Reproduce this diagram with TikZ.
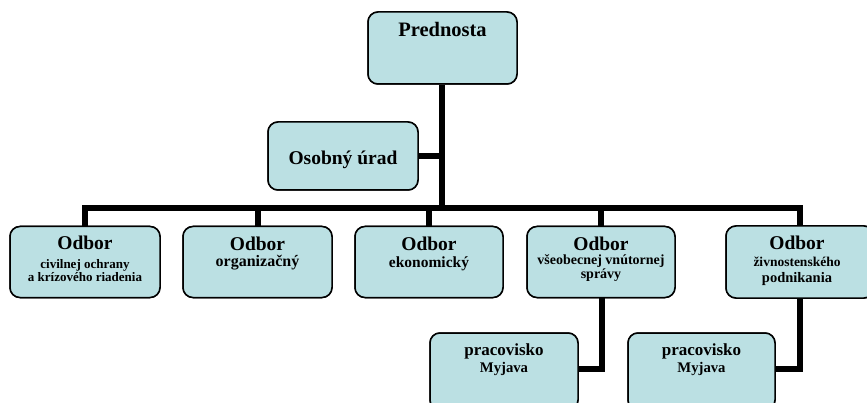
\documentclass[tikz,border=0pt]{standalone}
\usepackage{fontspec}
\setmainfont{Liberation Serif}
\definecolor{boxfill}{RGB}{187,224,227}
\tikzset{
  orgbox/.style={draw=black, line width=1.5pt, fill=boxfill, rounded corners=10pt, inner sep=0pt},
  conn/.style={draw=black, line width=6pt},
  txt/.style={anchor=base, inner sep=0pt, font=\bfseries},
}
\newcommand{\fs}[1]{\fontsize{#1}{#1}\selectfont}
\begin{document}
\begin{tikzpicture}[x=1pt,y=-1pt]
\useasboundingbox (0,0) rectangle (867,403);
\clip (0,0) rectangle (867,403);
% box outlines (positions)
\path
 node[orgbox, minimum width=149pt, minimum height=72pt] (pred) at (442.5,48) {}
 node[orgbox, minimum width=150pt, minimum height=68pt] (osob) at (343,156) {}
 node[orgbox, minimum width=150pt, minimum height=71pt] (b1) at (85,262) {}
 node[orgbox, minimum width=149pt, minimum height=71pt] (b2) at (257.5,262) {}
 node[orgbox, minimum width=148pt, minimum height=71pt] (b3) at (429,262) {}
 node[orgbox, minimum width=148pt, minimum height=71pt] (b4) at (601,262) {}
 node[orgbox, minimum width=148pt, minimum height=72pt] (b5) at (800,262) {}
 node[orgbox, minimum width=148pt, minimum height=77pt] (p1) at (504,371.5) {}
 node[orgbox, minimum width=147pt, minimum height=77pt] (p2) at (701.5,371.5) {};
\coordinate (bar) at (442,208);
\coordinate (j1) at (602,369);
\coordinate (j2) at (800,369);
% connectors
\draw[conn] (pred.south -| bar) -- (bar);
\draw[conn] (osob.east) -- (osob.east -| bar);
\draw[conn] (b1.north) -- (b1.north |- bar) -- (b5.north |- bar) -- (b5.north);
\draw[conn] (b2.north |- bar) -- (b2.north);
\draw[conn] (b3.north |- bar) -- (b3.north);
\draw[conn] (b4.north |- bar) -- (b4.north);
\draw[conn] (b4.south -| j1) -- (j1) -- (p1.east |- j1);
\draw[conn] (b5.south -| j2) -- (j2) -- (p2.east |- j2);
% boxes on top
\path
 node[orgbox, minimum width=149pt, minimum height=72pt] at (pred) {}
 node[orgbox, minimum width=150pt, minimum height=68pt] at (osob) {}
 node[orgbox, minimum width=150pt, minimum height=71pt] at (b1) {}
 node[orgbox, minimum width=149pt, minimum height=71pt] at (b2) {}
 node[orgbox, minimum width=148pt, minimum height=71pt] at (b3) {}
 node[orgbox, minimum width=148pt, minimum height=71pt] at (b4) {}
 node[orgbox, minimum width=148pt, minimum height=72pt] at (b5) {}
 node[orgbox, minimum width=148pt, minimum height=77pt] at (p1) {}
 node[orgbox, minimum width=147pt, minimum height=77pt] at (p2) {};
% texts
\node[txt, font=\bfseries\fs{20.5}] (tpred) at (442.5,37) {Prednosta};
\node[txt, font=\bfseries\fs{19.5}] (tosob) at (343,165) {Osobný úrad};
\node[txt, font=\bfseries\fs{19.5}] (t1a) at (85,250) {Odbor};
\node[txt, font=\bfseries\fs{13}] (t1b) at (85,269) {civilnej ochrany};
\node[txt, font=\bfseries\fs{13}] (t1c) at (85,282) {a krízového riadenia};
\node[txt, font=\bfseries\fs{19.5}] (t2a) at (257.5,251) {Odbor};
\node[txt, font=\bfseries\fs{16}] (t2b) at (257.5,267) {organizačný};
\node[txt, font=\bfseries\fs{19.5}] (t3a) at (429,251) {Odbor};
\node[txt, font=\bfseries\fs{15.5}] (t3b) at (429,268) {ekonomický};
\node[txt, font=\bfseries\fs{19.5}] (t4a) at (601,251) {Odbor};
\node[txt, font=\bfseries\fs{14}] (t4b) at (601,265) {všeobecnej vnútornej};
\node[txt, font=\bfseries\fs{14}] (t4c) at (601,279) {správy};
\node[txt, font=\bfseries\fs{19.5}] (t5a) at (797,250) {Odbor};
\node[txt, font=\bfseries\fs{13.5}] (t5b) at (797,267) {živnostenského};
\node[txt, font=\bfseries\fs{14.5}] (t5c) at (797,283) {podnikania};
\node[txt, font=\bfseries\fs{17}] (tp1a) at (504,355) {pracovisko};
\node[txt, font=\bfseries\fs{14.7}] (tp1b) at (504,372) {Myjava};
\node[txt, font=\bfseries\fs{17}] (tp2a) at (701.5,355) {pracovisko};
\node[txt, font=\bfseries\fs{14.7}] (tp2b) at (701.5,372) {Myjava};
\end{tikzpicture}
\end{document}
